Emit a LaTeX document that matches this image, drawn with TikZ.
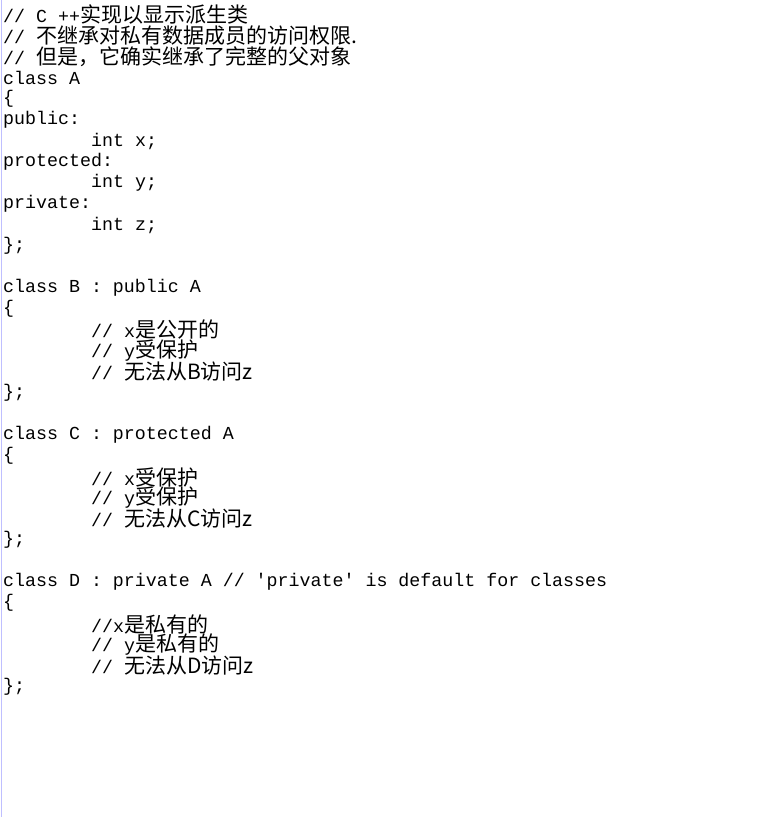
\documentclass[tikz,border=0pt]{standalone}
\usepackage{fontspec}
\setmonofont{Liberation Mono}
\newfontfamily\cjk{Noto Sans CJK SC}
\tikzset{code/.style={anchor=west, inner sep=0pt, font=\ttfamily\fontsize{18.3}{20}\selectfont}}
\newcommand{\cjkt}[1]{{\cjk\fontsize{21}{20}\selectfont #1}}
\begin{document}
\begin{tikzpicture}[x=1pt,y=-1pt]
\useasboundingbox (0,0) rectangle (772,817);
\draw[blue!25, line width=1pt] (1,0) -- (1,817);

\node[code] (l1) at (3, 15) {// C ++\cjkt{实现以显示派生类}};
\node[code] (l2) at (3, 36) {// \cjkt{不继承对私有数据成员的访问权限.}};
\node[code] (l3) at (3, 57) {// \cjkt{但是，它确实继承了完整的父对象}};
\node[code] (l4) at (3, 78) {class A};
\node[code] (l5) at (3, 99) {\{};
\node[code] (l6) at (3,120) {public:};
\node[code] (l7) at (91,141) {int x;};
\node[code] (l8) at (3,162) {protected:};
\node[code] (l9) at (91,183) {int y;};
\node[code] (l10) at (3,204) {private:};
\node[code] (l11) at (91,225) {int z;};
\node[code] (l12) at (3,246) {\};};

\node[code] (l14) at (3,288) {class B : public A};
\node[code] (l15) at (3,309) {\{};
\node[code] (l16) at (91,330) {// x\cjkt{是公开的}};
\node[code] (l17) at (91,351) {// y\cjkt{受保护}};
\node[code] (l18) at (91,372) {// \cjkt{无法从B访问z}};
\node[code] (l19) at (3,393) {\};};

\node[code] (l21) at (3,435) {class C : protected A};
\node[code] (l22) at (3,456) {\{};
\node[code] (l23) at (91,477) {// x\cjkt{受保护}};
\node[code] (l24) at (91,498) {// y\cjkt{受保护}};
\node[code] (l25) at (91,519) {// \cjkt{无法从C访问z}};
\node[code] (l26) at (3,540) {\};};

\node[code] (l28) at (3,582) {class D : private A // 'private' is default for classes};
\node[code] (l29) at (3,603) {\{};
\node[code] (l30) at (91,624) {//x\cjkt{是私有的}};
\node[code] (l31) at (91,645) {// y\cjkt{是私有的}};
\node[code] (l32) at (91,666) {// \cjkt{无法从D访问z}};
\node[code] (l33) at (3,687) {\};};
\end{tikzpicture}
\end{document}
